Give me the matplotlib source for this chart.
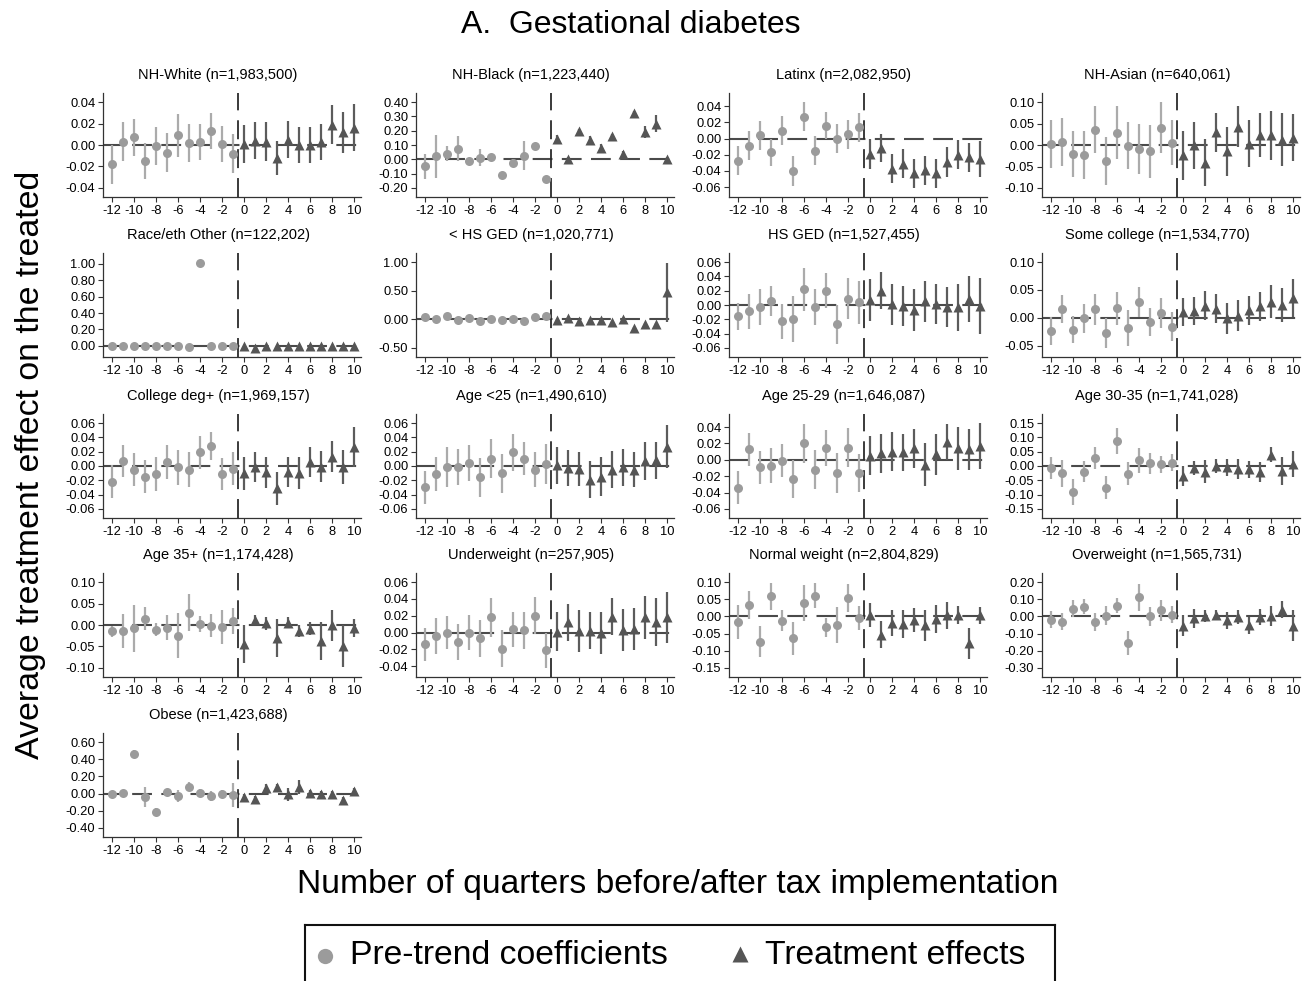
import matplotlib
matplotlib.use("Agg")
import matplotlib.pyplot as plt
from matplotlib.lines import Line2D
import numpy as np

plt.rcParams["font.family"] = ["Liberation Sans", "DejaVu Sans"]
plt.rcParams["axes.unicode_minus"] = False

PRE_Q = list(range(-12, 0))
POST_Q = list(range(0, 11))
XTICKS = list(range(-12, 11, 2))

# Event-study estimates: point estimate and 95% CI half-width per quarter
white_pre = [-0.018, 0.003, 0.007, -0.015, -0.001, -0.007, 0.009, 0.002, 0.003, 0.013, 0.001, -0.008]
white_pre_ci = [0.018, 0.018, 0.017, 0.017, 0.018, 0.018, 0.020, 0.018, 0.017, 0.017, 0.017, 0.018]
white_post = [0.001, 0.004, 0.003, -0.012, 0.005, 0.000, 0.000, 0.003, 0.019, 0.012, 0.016]
white_post_ci = [0.018, 0.017, 0.018, 0.016, 0.017, 0.017, 0.017, 0.017, 0.018, 0.019, 0.022]

black_pre = [-0.05, 0.02, 0.04, 0.075, -0.015, 0.01, 0.015, -0.11, -0.025, 0.025, 0.095, -0.14]
black_pre_ci = [0.09, 0.15, 0.05, 0.085, 0.01, 0.06, 0.02, 0.01, 0.03, 0.10, 0.01, 0.01]
black_post = [0.14, 0.005, 0.195, 0.135, 0.08, 0.16, 0.04, 0.32, 0.19, 0.25, 0.005]
black_post_ci = [0.03, 0.01, 0.02, 0.025, 0.025, 0.02, 0.02, 0.02, 0.04, 0.06, 0.01]

latinx_pre = [-0.0275, -0.009, 0.004, -0.017, 0.0095, -0.040, 0.027, -0.015, 0.016, 0.000, 0.005, 0.014]
latinx_pre_ci = [0.018, 0.018, 0.018, 0.017, 0.018, 0.019, 0.018, 0.018, 0.017, 0.018, 0.018, 0.018]
latinx_post = [-0.019, -0.012, -0.037, -0.031, -0.043, -0.039, -0.043, -0.029, -0.020, -0.023, -0.025]
latinx_post_ci = [0.018, 0.017, 0.018, 0.018, 0.018, 0.018, 0.018, 0.018, 0.018, 0.018, 0.022]

asian_pre = [0.002, 0.008, -0.021, -0.022, 0.036, -0.037, 0.029, -0.001, -0.009, -0.014, 0.041, 0.006]
asian_pre_ci = [0.056, 0.056, 0.054, 0.056, 0.055, 0.056, 0.062, 0.055, 0.058, 0.062, 0.060, 0.052]
asian_post = [-0.024, 0.000, -0.041, 0.030, -0.014, 0.043, 0.004, 0.024, 0.023, 0.013, 0.018]
asian_post_ci = [0.058, 0.055, 0.055, 0.045, 0.057, 0.048, 0.055, 0.052, 0.058, 0.062, 0.055]

other_pre = [0.0, 0.0, 0.0, 0.0, 0.0, 0.0, 0.0, -0.01, 1.01, 0.0, 0.0, 0.0]
other_pre_ci = [0.005, 0.005, 0.005, 0.005, 0.005, 0.005, 0.005, 0.005, 0.01, 0.005, 0.005, 0.005]
other_post = [0.0, -0.02, 0.0, 0.0, 0.0, 0.0, 0.0, 0.0, 0.0, 0.0, 0.0]
other_post_ci = [0.005, 0.005, 0.005, 0.005, 0.005, 0.005, 0.005, 0.005, 0.005, 0.005, 0.005]

lths_pre = [0.04, 0.0, 0.065, -0.005, 0.015, -0.035, 0.0, -0.02, 0.0, -0.03, 0.045, 0.065]
lths_pre_ci = [0.02, 0.02, 0.02, 0.02, 0.02, 0.02, 0.02, 0.02, 0.02, 0.02, 0.02, 0.02]
lths_post = [-0.01, 0.02, -0.035, -0.01, -0.01, -0.045, 0.0, -0.15, -0.08, -0.085, 0.47]
lths_post_ci = [0.02, 0.02, 0.02, 0.02, 0.02, 0.02, 0.02, 0.02, 0.02, 0.02, 0.52]

hs_pre = [-0.016, -0.009, -0.003, 0.006, -0.023, -0.020, 0.022, -0.003, 0.020, -0.027, 0.009, 0.004]
hs_pre_ci = [0.019, 0.025, 0.025, 0.021, 0.025, 0.032, 0.030, 0.025, 0.024, 0.027, 0.029, 0.030]
hs_post = [0.007, 0.020, 0.001, -0.001, -0.007, 0.005, 0.001, -0.003, -0.003, 0.008, -0.002]
hs_post_ci = [0.029, 0.026, 0.029, 0.028, 0.029, 0.029, 0.028, 0.028, 0.033, 0.032, 0.039]

somecol_pre = [-0.024, 0.016, -0.021, -0.001, 0.015, -0.027, 0.017, -0.018, 0.028, -0.008, 0.008, -0.016]
somecol_pre_ci = [0.025, 0.025, 0.024, 0.026, 0.027, 0.027, 0.030, 0.032, 0.027, 0.025, 0.027, 0.026]
somecol_post = [0.011, 0.013, 0.022, 0.016, -0.001, 0.004, 0.014, 0.021, 0.029, 0.023, 0.036]
somecol_post_ci = [0.025, 0.025, 0.026, 0.026, 0.028, 0.028, 0.026, 0.026, 0.030, 0.030, 0.034]

coll_pre = [-0.022, 0.007, -0.005, -0.015, -0.011, 0.006, -0.002, -0.005, 0.019, 0.028, -0.011, -0.004]
coll_pre_ci = [0.023, 0.023, 0.023, 0.023, 0.024, 0.024, 0.024, 0.025, 0.023, 0.020, 0.022, 0.023]
coll_post = [-0.010, -0.001, -0.009, -0.031, -0.009, -0.010, 0.006, -0.001, 0.013, -0.001, 0.026]
coll_post_ci = [0.023, 0.021, 0.022, 0.023, 0.021, 0.022, 0.021, 0.022, 0.022, 0.024, 0.028]

u25_pre = [-0.030, -0.011, -0.002, -0.001, 0.004, -0.016, 0.010, -0.010, 0.019, 0.010, -0.005, 0.003]
u25_pre_ci = [0.023, 0.024, 0.028, 0.025, 0.025, 0.027, 0.027, 0.027, 0.026, 0.023, 0.025, 0.028]
u25_post = [0.001, -0.003, -0.004, -0.019, -0.015, -0.005, -0.002, -0.005, 0.007, 0.008, 0.027]
u25_post_ci = [0.026, 0.025, 0.024, 0.026, 0.027, 0.026, 0.026, 0.025, 0.027, 0.026, 0.030]

a2529_pre = [-0.034, 0.013, -0.009, -0.007, -0.001, -0.023, 0.020, -0.012, 0.014, -0.016, 0.015, -0.016]
a2529_pre_ci = [0.020, 0.020, 0.020, 0.021, 0.020, 0.023, 0.024, 0.024, 0.022, 0.024, 0.024, 0.023]
a2529_post = [0.005, 0.008, 0.010, 0.009, 0.014, -0.006, 0.007, 0.022, 0.014, 0.013, 0.017]
a2529_post_ci = [0.024, 0.024, 0.024, 0.022, 0.024, 0.026, 0.025, 0.022, 0.026, 0.025, 0.028]

a3035_pre = [-0.008, -0.026, -0.092, -0.020, 0.028, -0.076, 0.087, -0.027, 0.020, 0.009, 0.006, 0.011]
a3035_pre_ci = [0.038, 0.048, 0.045, 0.037, 0.038, 0.040, 0.045, 0.040, 0.043, 0.037, 0.030, 0.030]
a3035_post = [-0.035, -0.006, -0.020, 0.000, -0.004, -0.009, -0.011, -0.021, 0.040, -0.017, 0.006]
a3035_post_ci = [0.035, 0.025, 0.040, 0.025, 0.030, 0.035, 0.030, 0.035, 0.025, 0.050, 0.045]

a35_pre = [-0.015, -0.014, -0.008, 0.015, -0.011, -0.006, -0.025, 0.029, 0.002, -0.002, -0.004, 0.010]
a35_pre_ci = [0.013, 0.040, 0.055, 0.027, 0.015, 0.030, 0.052, 0.042, 0.018, 0.027, 0.040, 0.030]
a35_post = [-0.044, 0.012, 0.004, -0.030, 0.005, -0.014, -0.009, -0.037, -0.001, -0.049, -0.007]
a35_post_ci = [0.045, 0.012, 0.015, 0.045, 0.013, 0.015, 0.015, 0.045, 0.037, 0.048, 0.022]

under_pre = [-0.014, -0.004, 0.000, -0.011, 0.000, -0.007, 0.018, -0.019, 0.004, 0.003, 0.020, -0.021]
under_pre_ci = [0.020, 0.021, 0.020, 0.021, 0.021, 0.022, 0.023, 0.022, 0.021, 0.022, 0.022, 0.021]
under_post = [0.001, 0.012, 0.002, 0.002, 0.000, 0.019, 0.003, 0.004, 0.018, 0.0125, 0.018]
under_post_ci = [0.023, 0.022, 0.025, 0.022, 0.025, 0.022, 0.025, 0.025, 0.026, 0.028, 0.030]

normal_pre = [-0.016, 0.033, -0.073, 0.058, -0.012, -0.064, 0.039, 0.060, -0.032, -0.024, 0.053, -0.005]
normal_pre_ci = [0.050, 0.040, 0.045, 0.040, 0.030, 0.048, 0.052, 0.037, 0.028, 0.052, 0.040, 0.035]
normal_post = [0.003, -0.053, -0.019, -0.022, -0.011, -0.026, -0.008, 0.003, 0.004, -0.078, 0.003]
normal_post_ci = [0.035, 0.040, 0.038, 0.040, 0.035, 0.045, 0.040, 0.040, 0.026, 0.045, 0.025]

over_pre = [-0.020, -0.030, 0.045, 0.057, -0.032, 0.005, 0.062, -0.155, 0.110, 0.002, 0.036, 0.010]
over_pre_ci = [0.050, 0.050, 0.050, 0.045, 0.050, 0.055, 0.045, 0.070, 0.080, 0.055, 0.060, 0.050]
over_post = [-0.053, -0.012, 0.003, 0.008, -0.022, -0.004, -0.052, -0.004, 0.002, 0.038, -0.053]
over_post_ci = [0.060, 0.055, 0.035, 0.028, 0.050, 0.040, 0.050, 0.045, 0.060, 0.050, 0.090]

obese_pre = [0.0, 0.012, 0.46, -0.04, -0.21, 0.015, -0.025, 0.08, 0.01, -0.03, 0.0, -0.02]
obese_pre_ci = [0.02, 0.03, 0.05, 0.12, 0.04, 0.03, 0.07, 0.05, 0.04, 0.06, 0.04, 0.14]
obese_post = [-0.04, -0.06, 0.07, 0.08, -0.01, 0.075, 0.01, -0.01, -0.005, -0.08, 0.035]
obese_post_ci = [0.04, 0.03, 0.04, 0.03, 0.08, 0.08, 0.03, 0.04, 0.03, 0.04, 0.03]

PANELS = [
    ("NH-White (n=1,983,500)", [-0.04, -0.02, 0.0, 0.02, 0.04],
     white_pre, white_pre_ci, white_post, white_post_ci),
    ("NH-Black (n=1,223,440)", [-0.2, -0.1, 0.0, 0.1, 0.2, 0.3, 0.4],
     black_pre, black_pre_ci, black_post, black_post_ci),
    ("Latinx (n=2,082,950)", [-0.06, -0.04, -0.02, 0.0, 0.02, 0.04],
     latinx_pre, latinx_pre_ci, latinx_post, latinx_post_ci),
    ("NH-Asian (n=640,061)", [-0.10, -0.05, 0.0, 0.05, 0.10],
     asian_pre, asian_pre_ci, asian_post, asian_post_ci),
    ("Race/eth Other (n=122,202)", [0.0, 0.2, 0.4, 0.6, 0.8, 1.0],
     other_pre, other_pre_ci, other_post, other_post_ci),
    ("< HS GED (n=1,020,771)", [-0.5, 0.0, 0.5, 1.0],
     lths_pre, lths_pre_ci, lths_post, lths_post_ci),
    ("HS GED (n=1,527,455)", [-0.06, -0.04, -0.02, 0.0, 0.02, 0.04, 0.06],
     hs_pre, hs_pre_ci, hs_post, hs_post_ci),
    ("Some college (n=1,534,770)", [-0.05, 0.0, 0.05, 0.10],
     somecol_pre, somecol_pre_ci, somecol_post, somecol_post_ci),
    ("College deg+ (n=1,969,157)", [-0.06, -0.04, -0.02, 0.0, 0.02, 0.04, 0.06],
     coll_pre, coll_pre_ci, coll_post, coll_post_ci),
    ("Age <25 (n=1,490,610)", [-0.06, -0.04, -0.02, 0.0, 0.02, 0.04, 0.06],
     u25_pre, u25_pre_ci, u25_post, u25_post_ci),
    ("Age 25-29 (n=1,646,087)", [-0.06, -0.04, -0.02, 0.0, 0.02, 0.04],
     a2529_pre, a2529_pre_ci, a2529_post, a2529_post_ci),
    ("Age 30-35 (n=1,741,028)", [-0.15, -0.10, -0.05, 0.0, 0.05, 0.10, 0.15],
     a3035_pre, a3035_pre_ci, a3035_post, a3035_post_ci),
    ("Age 35+ (n=1,174,428)", [-0.10, -0.05, 0.0, 0.05, 0.10],
     a35_pre, a35_pre_ci, a35_post, a35_post_ci),
    ("Underweight (n=257,905)", [-0.04, -0.02, 0.0, 0.02, 0.04, 0.06],
     under_pre, under_pre_ci, under_post, under_post_ci),
    ("Normal weight (n=2,804,829)", [-0.15, -0.10, -0.05, 0.0, 0.05, 0.10],
     normal_pre, normal_pre_ci, normal_post, normal_post_ci),
    ("Overweight (n=1,565,731)", [-0.3, -0.2, -0.1, 0.0, 0.1, 0.2],
     over_pre, over_pre_ci, over_post, over_post_ci),
    ("Obese (n=1,423,688)", [-0.4, -0.2, 0.0, 0.2, 0.4, 0.6],
     obese_pre, obese_pre_ci, obese_post, obese_post_ci),
]

PRE_COLOR = "#9b9b9b"
PRE_BAR = "#ababab"
POST_COLOR = "#555555"
POST_BAR = "#5c5c5c"

W, H = 1303, 981
fig = plt.figure(figsize=(W / 100, H / 100), dpi=100)

col_left = [103, 416, 729, 1042]
row_top = [93, 253, 414, 573, 733]
ax_w, ax_h = 258, 104


def draw_panel(ax, yticks, pre, pre_ci, post, post_ci):
    pre = np.asarray(pre)
    post = np.asarray(post)
    pre_ci = np.asarray(pre_ci)
    post_ci = np.asarray(post_ci)

    ax.axhline(0, color="#4a4a4a", lw=1.5, ls=(0, (9.5, 4.5)), zorder=1)
    ax.axvline(-0.5, color="#2b2b2b", lw=1.3, ls=(0, (10.5, 5.5)), zorder=1)

    ax.errorbar(PRE_Q, pre, yerr=pre_ci, fmt="none", ecolor=PRE_BAR,
                elinewidth=1.6, capsize=0, zorder=2)
    ax.plot(PRE_Q, pre, "o", color=PRE_COLOR, ms=6.5, mec="none", zorder=3)
    ax.errorbar(POST_Q, post, yerr=post_ci, fmt="none", ecolor=POST_BAR,
                elinewidth=1.6, capsize=0, zorder=2)
    ax.plot(POST_Q, post, "^", color=POST_COLOR, ms=7.4, mec="none", zorder=3)

    lo = min(yticks[0], (pre - pre_ci).min(), (post - post_ci).min())
    hi = max(yticks[-1], (pre + pre_ci).max(), (post + post_ci).max())
    pad = 0.105 * (hi - lo)
    ax.set_ylim(lo - pad, hi + pad)
    ax.set_xlim(-12.77, 10.6)

    ax.set_yticks(yticks)
    ax.set_yticklabels([f"{t:.2f}" for t in yticks])
    ax.set_xticks(XTICKS)
    ax.set_xticklabels([str(t) for t in XTICKS])
    ax.tick_params(axis="both", labelsize=9.3, length=3.5, width=0.8,
                   color="#333333", pad=2)

    for side in ("top", "right"):
        ax.spines[side].set_visible(False)
    for side in ("left", "bottom"):
        ax.spines[side].set_color("#333333")
        ax.spines[side].set_linewidth(0.9)


for i, (title, yticks, pre, pre_ci, post, post_ci) in enumerate(PANELS):
    r, c = divmod(i, 4)
    left, top = col_left[c], row_top[r]
    ax = fig.add_axes([left / W, 1 - (top + ax_h) / H, ax_w / W, ax_h / H])
    draw_panel(ax, yticks, pre, pre_ci, post, post_ci)
    fig.text((left + ax_w / 2 - 14) / W, 1 - (top - 18) / H, title,
             ha="center", va="center", fontsize=10.5)

fig.text(631 / W, 1 - 25 / H, "A.  Gestational diabetes",
         ha="center", va="center", fontsize=23)
fig.text(678 / W, 1 - 885 / H, "Number of quarters before/after tax implementation",
         ha="center", va="center", fontsize=24.2)
fig.text(31 / W, 1 - 465 / H, "Average treatment effect on the treated",
         ha="center", va="center", rotation=90, fontsize=24.4)

# Legend box running off the bottom edge
leg = fig.add_axes([305 / W, 0, 750 / W, (H - 925) / H])
leg.set_xlim(0, 750)
leg.set_ylim(-(H - 925), 0)
leg.set_xticks([])
leg.set_yticks([])
leg.spines["bottom"].set_visible(False)
for side in ("top", "left", "right"):
    leg.spines[side].set_linewidth(1.5)
    leg.spines[side].set_color("#111111")
leg.add_line(Line2D([20], [-31], marker="o", color=PRE_COLOR, ms=11, mec="none", ls="none"))
leg.text(45, -31, "Pre-trend coefficients", va="center", ha="left", fontsize=24.3)
leg.add_line(Line2D([435], [-29], marker="^", color=POST_COLOR, ms=12, mec="none", ls="none"))
leg.text(460, -31, "Treatment effects", va="center", ha="left", fontsize=24.3)

fig.savefig("out.png", dpi=100)
